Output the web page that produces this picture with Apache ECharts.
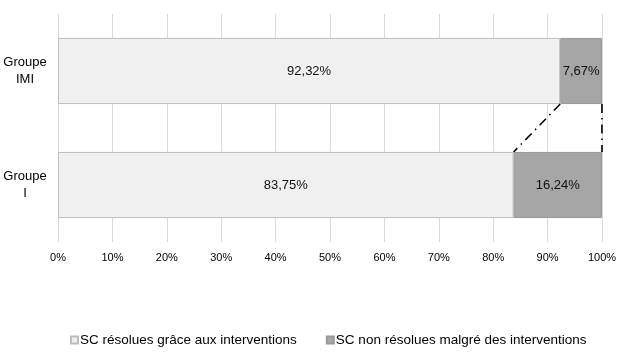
<!DOCTYPE html>
<html><head><meta charset="utf-8">
<script src="https://cdn.jsdelivr.net/npm/echarts@6/dist/echarts.min.js"></script>
<style>html,body{margin:0;padding:0;background:#fff}#c{width:622px;height:358px}</style>
</head><body><div id="c"></div>
<script>
var categories = ['Groupe\nI', 'Groupe\nIMI'];
var resolved = [83.75, 92.32];
var unresolved = [16.24, 7.67];
var seriesNames = ['SC résolues grâce aux interventions', 'SC non résolues malgré des interventions'];
var tickLabels = ['0%','10%','20%','30%','40%','50%','60%','70%','80%','90%','100%'];

var FONT = 'Liberation Sans, Arial, sans-serif';
var BARW = 0.58;
var chart = echarts.init(document.getElementById('c'), null, {renderer:'canvas'});

function fmt(v){ return v.toFixed(2).replace('.', ',') + '%'; }

// connector lines between IMI (top, index 1) and I (bottom, index 0)
var connectors = [
  [resolved[1], resolved[0]],
  [resolved[1] + unresolved[1], resolved[0] + unresolved[0]]
];

chart.setOption({
  animation: false,
  grid: {left: 58, right: 20, top: 14, bottom: 116, containLabel: false},
  xAxis: {
    type: 'value', min: 0, max: 100, interval: 10,
    axisLine: {show: false}, axisTick: {show: false},
    splitLine: {show: true, lineStyle: {color: '#d9d9d9', width: 1}},
    axisLabel: {
      color: '#000', fontFamily: FONT, fontSize: 11, margin: 10,
      formatter: function(v){ return tickLabels[Math.round(v/10)]; }
    }
  },
  yAxis: {
    type: 'category', data: categories,
    axisLine: {show: false}, axisTick: {show: false},
    axisLabel: {color: '#000', fontFamily: FONT, fontSize: 13, align: 'center', margin: 33, lineHeight: 17}
  },
  legend: {
    top: 328, left: 65, itemGap: 29, itemWidth: 7, itemHeight: 7,
    icon: 'rect',
    textStyle: {color: '#000', fontFamily: FONT, fontSize: 13.5, padding: [0,0,0,-3]},
    data: seriesNames
  },
  series: [
    {
      name: seriesNames[0], type: 'bar', stack: 's', barWidth: (BARW*100)+'%',
      data: resolved,
      itemStyle: {color: '#f0f0f0', borderColor: '#bdbdbd', borderWidth: 1},
      label: {show: true, position: 'inside', color: '#111', fontFamily: FONT, fontSize: 13,
        formatter: function(p){ return fmt(p.value); }}
    },
    {
      name: seriesNames[1], type: 'bar', stack: 's', barWidth: (BARW*100)+'%',
      data: unresolved,
      itemStyle: {color: '#a6a6a6', borderColor: '#999', borderWidth: 1},
      label: {show: true, position: 'inside', color: '#111', fontFamily: FONT, fontSize: 13,
        formatter: function(p){ return fmt(p.value); }}
    },
    {
      type: 'custom', silent: true, z: 5,
      data: connectors,
      renderItem: function(params, api){
        var top = api.value(0), bot = api.value(1);
        var band = api.size([0, 1])[1];
        var half = band * BARW / 2;
        var pTop = api.coord([top, 1]);
        var pBot = api.coord([bot, 0]);
        return {
          type: 'line',
          shape: {x1: pTop[0], y1: pTop[1] + half, x2: pBot[0], y2: pBot[1] - half},
          style: {stroke: '#000', lineWidth: 1.6, lineDash: [9, 5, 1.5, 5]}
        };
      }
    }
  ]
});
</script></body></html>
